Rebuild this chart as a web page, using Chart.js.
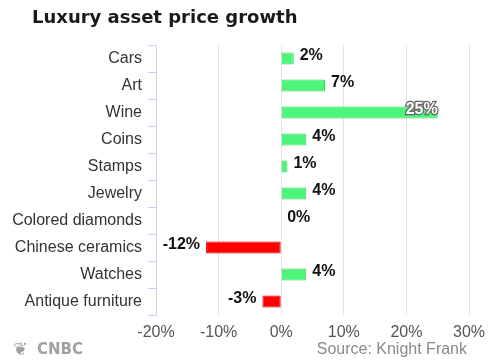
<!DOCTYPE html>
<html>
<head>
<meta charset="utf-8">
<script src="https://cdn.jsdelivr.net/npm/chart.js@4"></script>
<style>
  html, body { margin: 0; padding: 0; background: #fff; }
  #wrap { width: 500px; height: 363px; position: relative; }
</style>
</head>
<body>
<div id="wrap"><canvas id="myChart" width="500" height="363"></canvas></div>
<script>
// data
const assets = ["Cars", "Art", "Wine", "Coins", "Stamps", "Jewelry", "Colored diamonds", "Chinese ceramics", "Watches", "Antique furniture"];
const growth = [2, 7, 25, 4, 1, 4, 0, -12, 4, -3];
const xTicks = [-20, -10, 0, 10, 20, 30];

const green = "#4df57a", greenEdge = "#36d862";
const red = "#ff0000", redEdge = "#d80000";

// value labels at the end of each bar
const barLabels = {
	id: "barLabels",
	afterDatasetsDraw(chart) {
		const ctx = chart.ctx;
		const meta = chart.getDatasetMeta(0);
		ctx.save();
		ctx.font = "bold 16px 'Liberation Sans', Arial, sans-serif";
		ctx.textBaseline = "middle";
		meta.data.forEach((bar, i) => {
			const v = growth[i];
			const txt = v + "%";
			const y = bar.y - 3;
			if (v >= 20) {
				// big bar: label sits inside the end, white with grey outline
				ctx.textAlign = "right";
				ctx.lineWidth = 2.5;
				ctx.strokeStyle = "#666";
				ctx.strokeText(txt, bar.x, y);
				ctx.fillStyle = "#fff";
				ctx.fillText(txt, bar.x, y);
			} else if (v < 0) {
				ctx.textAlign = "right";
				ctx.fillStyle = "#111";
				ctx.fillText(txt, bar.x - 6, y);
			} else {
				ctx.textAlign = "left";
				ctx.fillStyle = "#111";
				ctx.fillText(txt, bar.x + 6, y);
			}
		});
		ctx.restore();
	}
};

// title on top, logo and source at the bottom
const titleAndFooter = {
	id: "titleAndFooter",
	afterDraw(chart) {
		const ctx = chart.ctx;
		ctx.save();
		ctx.textBaseline = "middle";
		ctx.textAlign = "left";
		ctx.fillStyle = "#1a1a1a";
		ctx.font = "bold 18px 'DejaVu Sans', sans-serif";
		ctx.fillText("Luxury asset price growth", 32, 18);

		ctx.fillStyle = "#a0a0a0";
		ctx.font = "bold 18px 'DejaVu Sans', sans-serif";
		ctx.fillText("\u2766", 13, 350);
		ctx.font = "bold 15px 'DejaVu Sans', sans-serif";
		ctx.fillText("CNBC", 37, 350);

		ctx.fillStyle = "#8a8a8a";
		ctx.font = "16px 'Liberation Sans', Arial, sans-serif";
		ctx.textAlign = "right";
		ctx.fillText("Source: Knight Frank", 467, 350);
		ctx.restore();
	}
};

new Chart(document.getElementById("myChart"), {
	type: "bar",
	data: {
		labels: assets,
		datasets: [{
			data: growth,
			backgroundColor: growth.map(v => v < 0 ? red : green),
			borderColor: growth.map(v => v < 0 ? redEdge : greenEdge),
			borderWidth: 1,
			borderSkipped: false,
			barPercentage: 0.44,
			categoryPercentage: 1
		}]
	},
	options: {
		indexAxis: "y",
		responsive: false,
		animation: false,
		layout: { padding: { left: 0, right: 31, top: 45, bottom: 0 } },
		plugins: {
			legend: { display: false },
			tooltip: { enabled: false },
			title: { display: false }
		},
		scales: {
			x: {
				min: -20,
				max: 30,
				afterBuildTicks(scale) { scale.ticks = xTicks.map(v => ({ value: v })); },
				afterFit(scale) { scale.height = 48; },
				grid: { color: "#e3e3e3", drawTicks: false },
				border: { display: false },
				ticks: {
					color: "#555",
					padding: 8,
					font: { family: "'Liberation Sans', Arial, sans-serif", size: 16 },
					callback: v => v + "%"
				}
			},
			y: {
				afterFit(scale) { scale.width = 156; },
				grid: { drawOnChartArea: false, color: "#c9d5f0", tickLength: 8, offset: true },
				border: { color: "#c9d5f0" },
				ticks: {
					color: "#333",
					padding: 6,
					font: { family: "'Liberation Sans', Arial, sans-serif", size: 16 }
				}
			}
		}
	},
	plugins: [barLabels, titleAndFooter]
});
</script>
</body>
</html>
